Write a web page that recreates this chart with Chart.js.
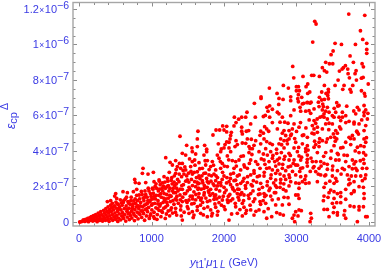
<!DOCTYPE html>
<html>
<head>
<meta charset="utf-8">
<style>
html,body{margin:0;padding:0;background:#fff;overflow:hidden}
</style>
<script src="https://cdn.jsdelivr.net/npm/chart.js@4/dist/chart.umd.min.js"></script>
</head>
<body>
<canvas id="chart" width="382" height="273"></canvas>
<script>
// x = GeV, y = units of 1e-7
var xMajor = [0,1000,2000,3000,4000];
var xLabels = ["0","1000","2000","3000","4000"];
var xMinor = [200,400,600,800,1200,1400,1600,1800,2200,2400,2600,2800,3200,3400,3600,3800];
var yMajor = [0,2,4,6,8,10,12];
var yLabels = ["0","2","4","6","8","1","1.2"];
var yExponents = ["","7","7","7","7","6","6"];
var yMinor = [0.5,1,1.5,2.5,3,3.5,4.5,5,5.5,6.5,7,7.5,8.5,9,9.5,10.5,11,11.5];

var upperPoints = [[3721,11.71],[3942,11.64],[3252,11.3],[3270,11.15],[3882,10.77],[3914,10.28],[3224,10.13],[3532,10.06],[3620,10],[3813,10],[3969,10.06],[3969,9.72],[3505,9.63],[3477,9.42],[3969,9.5],[3739,9.35],[3403,8.99],[3454,8.91],[3500,8.91],[3905,8.91],[3785,8.99],[3923,8.74],[2948,8.76],[3357,8.69],[3675,8.8],[3647,8.69],[3707,8.61],[3629,8.61],[3385,8.52],[3417,8.44],[3592,8.5],[3822,8.52],[3808,8.35],[3090,8.2],[3210,8.26],[3238,8.26],[3316,8.2],[3712,8.35],[3730,8.12],[3919,8.14],[3896,8.1],[2962,8.12],[3574,7.99],[3827,7.99],[3990,7.77],[3385,7.69],[3532,7.69],[3656,7.69],[3776,7.69],[3155,7.77],[3132,7.62],[2819,7.69],[2888,7.54],[2999,7.62],[3026,7.62],[2626,7.54],[2999,7.39],[3040,7.39],[3440,7.47],[3440,7.32],[3638,7.47],[3739,7.47],[3753,7.32],[3896,7.39],[3937,7.24],[3946,7.09],[2732,7.24],[3183,7.32],[3155,7.24],[3026,7.17],[3348,7.32],[3408,7.24],[2511,7.05],[2511,6.96],[2759,6.96],[2815,6.9],[2920,7.05],[2920,6.83],[3017,6.94],[3072,7.02],[3316,7.02],[3431,7.13],[3348,6.87],[3385,6.9],[3440,6.94],[2419,6.68],[2755,6.62],[3026,6.77],[3100,6.68],[3146,6.72],[3201,6.75],[3302,6.75],[3362,6.64],[3555,6.72],[3569,6.53]];

var midLeftPoints = [[2630,6.54],[2593,6.46],[2667,6.35],[2607,6.24],[2317,6.18],[2143,5.9],[2202,5.79],[2244,5.9],[2299,5.9],[2432,5.9],[2543,5.94],[2570,6],[2630,5.9],[2166,5.6],[2138,5.41],[1982,5.41],[2037,5.39],[2368,5.52],[2667,5.6],[1890,5.18],[1940,5.18],[2000,5.18],[1641,5.11],[2037,5.07],[2101,5.05],[2244,5.34],[2244,5.11],[2253,4.96],[2308,5.11],[2340,5.15],[2561,5.37],[2589,5.24],[2616,5.11],[2506,5.11],[2543,5],[1848,4.9],[1393,4.83],[2092,4.87],[2497,4.88],[1632,4.68],[2083,4.68],[2322,4.68],[2377,4.66],[2437,4.58],[2552,4.68],[2589,4.53],[2037,4.51],[2069,4.49],[2166,4.58],[2253,4.45],[2299,4.43],[1485,4.32],[1632,4.25],[1733,4.32],[1922,4.4],[2014,4.36],[2184,4.36],[2152,4.25],[2345,4.25],[2414,4.32],[2506,4.4],[2635,4.43],[2667,4.36],[1558,4.17],[1761,4.1],[1963,4.11],[2000,4.17],[2069,4.17],[2391,4.13],[2359,4.13],[2575,4.13]];

var midRightPoints = [[2966,6.31],[3049,6.46],[3081,6.65],[3150,6.74],[3187,6.69],[3242,6.37],[3311,6.5],[3371,6.5],[3426,6.46],[3587,6.56],[3693,6.52],[3840,6.46],[3932,6.56],[3955,6.31],[3985,6.12],[2736,6.18],[2759,6.09],[2805,5.9],[2920,5.99],[3058,6.24],[3127,6.24],[3173,6.27],[3196,6.12],[3357,6.31],[3403,6.24],[3380,6.09],[3449,6.18],[3541,6.18],[3495,5.99],[3633,6.18],[3817,6.09],[3932,6.18],[3863,6.31],[3325,5.9],[3380,5.9],[3426,5.8],[3242,5.71],[3265,5.56],[3518,5.9],[3587,5.9],[3633,5.9],[3679,5.99],[3794,5.62],[3932,5.99],[3978,5.8],[2773,5.62],[2837,5.62],[2883,5.56],[2966,5.52],[3035,5.34],[3219,5.43],[3288,5.34],[3357,5.24],[3403,5.52],[3449,5.56],[3495,5.52],[3610,5.71],[3725,5.67],[3794,5.52],[3863,5.52],[3955,5.43],[2736,5.24],[2828,5.15],[2897,5.15],[2943,5.24],[3242,5.24],[3288,5.05],[3610,5.24],[3541,5.15],[3509,4.96],[3564,5],[3527,4.77],[3555,4.68],[3472,4.77],[3831,5.11],[3725,4.77],[3771,4.87],[3840,5.05],[3932,5.15],[2805,5],[2851,4.87],[2920,4.87],[2782,4.68],[2897,4.68],[2828,4.58],[3081,4.87],[3150,4.77],[3242,4.96],[3357,4.58],[3426,4.68],[3794,4.68],[3932,4.68],[3955,4.49],[3886,4.3],[2759,4.4],[2874,4.4],[2989,4.49],[3081,4.4],[3150,4.3],[3265,4.36],[3311,4.49],[3311,4.25],[3242,4.21],[3518,4.3],[3748,4.36],[3679,4.49],[3932,4.25],[3840,4.21],[3610,4.17],[2828,4.17],[2966,4.17],[3127,4.13]];

var lowRightPoints = [[2727,3.87],[2791,3.91],[2897,3.87],[3012,3.96],[3127,3.96],[3150,3.77],[3288,3.91],[3403,3.91],[3564,3.87],[3656,3.77],[3863,3.91],[3955,3.77],[2736,3.49],[2759,3.27],[2828,3.53],[2897,3.49],[2966,3.49],[3035,3.72],[3058,3.49],[3150,3.53],[3219,3.4],[3334,3.4],[3380,3.3],[3472,3.59],[3541,3.49],[3587,3.49],[3679,3.4],[3771,3.49],[3817,3.4],[3932,3.3],[3923,3.53],[2713,3.15],[2805,3.02],[2851,2.89],[2920,3.15],[2989,3.21],[3058,3.02],[3150,3.15],[3242,3.12],[3311,3.02],[3426,2.97],[3495,2.93],[3564,2.89],[3633,3.02],[3725,3.12],[3794,3.27],[3817,3.02],[3909,3.02],[3969,3.02],[2713,2.74],[2773,2.7],[2828,2.59],[2897,2.65],[2989,2.65],[3058,2.55],[3127,2.59],[3265,2.84],[3334,2.65],[3403,2.65],[3495,2.59],[3541,2.46],[3702,2.65],[3757,2.59],[3817,2.59],[3886,2.59],[3955,2.65],[2713,2.37],[2782,2.4],[2851,2.4],[2920,2.27],[3035,2.18],[3081,2.27],[3127,2.18],[3173,2.2],[3288,2.27],[3403,2.18],[3518,2.18],[3725,2.4],[3739,2.18],[3909,2.33],[3794,2.27],[2727,1.95],[2773,1.95],[2819,1.84],[2897,2.03],[3035,1.9],[3380,1.95],[3472,1.8],[3610,1.65],[3679,1.84],[3794,1.77],[3863,1.99],[3923,1.95],[2713,1.65],[2989,1.52],[3021,1.52],[3035,1.33],[3380,1.46],[3449,1.65],[3518,1.71],[3564,1.6],[3757,1.6],[3794,1.71],[3932,1.6],[2828,1.39],[2883,1.37],[3371,1.2],[3435,1.39],[3518,1.33],[3610,1.43],[3932,1.33],[3679,1.28],[2713,0.96],[2805,0.96],[2897,1],[3495,1.05],[3555,1.09],[3610,1.09],[3739,0.9],[3794,0.86],[3863,0.86],[3923,0.86],[3380,0.71],[3426,0.71],[3518,0.83],[3564,0.53],[3509,0.53],[3665,0.64],[3863,0.68],[3035,0.68],[2989,0.58],[2966,0.39],[3021,0.34],[3067,0.64],[2727,0.53],[2773,0.45],[2819,0.39],[3196,0.49],[3205,0.21],[3187,0.02],[2943,0.21],[2975,0.02],[3449,0.3],[3564,0.39],[3679,0.21],[3840,0.02],[3955,0.3],[3975,0.3],[3656,0.39]];

var lowMidPoints = [[1425,3.87],[1471,3.77],[1563,3.96],[1609,3.83],[1724,3.77],[1761,3.96],[1908,3.77],[1954,3.96],[2092,3.96],[2046,3.72],[2267,3.72],[2345,3.91],[2483,3.96],[2543,3.83],[2644,3.96],[2598,3.77],[1333,3.46],[1425,3.3],[1563,3.4],[1595,3.49],[1655,3.34],[1770,3.46],[1839,3.4],[1931,3.59],[1977,3.3],[2115,3.46],[2161,3.4],[2207,3.49],[2276,3.21],[2368,3.49],[2437,3.4],[2552,3.49],[2621,3.4],[2667,3.59],[1356,3.12],[1402,3.02],[1471,2.93],[1540,3.12],[1632,2.83],[1701,3.02],[1747,3.21],[1816,3.12],[1885,2.93],[1954,3.02],[2046,3.12],[2138,3.02],[2230,2.93],[2322,3.02],[2414,2.89],[2497,3.02],[2589,3.02],[2667,2.93],[1333,2.74],[1448,2.7],[1563,2.7],[1655,2.59],[1724,2.74],[1793,2.65],[1862,2.7],[2000,2.59],[2092,2.7],[2184,2.59],[2276,2.46],[2368,2.65],[2460,2.55],[2552,2.59],[2644,2.46],[1379,2.27],[1494,2.37],[1595,2.27],[1655,2.18],[1701,2.33],[1770,2.27],[1885,2.33],[1954,2.22],[2069,2.27],[2138,2.33],[2230,2.18],[2322,2.22],[2405,2.33],[2506,2.18],[2598,2.27],[1347,1.9],[1425,1.84],[1517,1.95],[1609,1.99],[1641,1.84],[1724,1.9],[1816,1.84],[1908,2.03],[2000,1.95],[2115,1.95],[2207,1.84],[2299,1.9],[2391,2.03],[2483,1.84],[2552,1.6],[2621,1.77],[1333,1.65],[1393,1.52],[1471,1.6],[1563,1.46],[1655,1.6],[1724,1.52],[1793,1.65],[1885,1.52],[1977,1.24],[2046,1.24],[2184,1.6],[2276,1.52],[2368,1.6],[2497,1.58],[2561,1.43],[2644,1.46],[1347,1.24],[1425,1.15],[1517,1.24],[1586,1.05],[1678,1.24],[1770,1.15],[1862,1.28],[1931,1.09],[2092,1.2],[2253,1.05],[2207,1.24],[2345,1.33],[2405,1.15],[2497,1.15],[2575,1.05],[1333,0.77],[1402,0.68],[1494,0.86],[1563,0.58],[1632,0.86],[1724,0.77],[1816,0.68],[1885,0.83],[2161,0.86],[2000,0.86],[2276,0.83],[2368,0.68],[2483,0.68],[2552,0.58],[1347,0.39],[1425,0.11],[1411,0.34],[1517,0.49],[1586,0.39],[1678,0.49],[1770,0.3],[1839,0.49],[1908,0.39],[2069,0.11],[2184,0.49],[2299,0.49],[2253,0.34],[2414,0.39],[2589,0.21],[2658,0.3]];

var lowLeftPoints = [[1196,3.62],[1256,3.36],[1288,3.21],[883,3.02],[874,2.74],[952,2.7],[1026,2.8],[768,2.4],[777,2.22],[1173,2.55],[1219,2.46],[828,2.18],[920,2.22],[1035,2.27],[1104,2.37],[506,1.6],[492,1.46],[607,1.71],[667,1.65],[750,1.71],[796,1.84],[391,1.15],[437,1.2],[520,1.33],[10,0],[30,0.02],[50,0.05],[60,0.12],[80,0.03],[90,0.14],[110,0.08],[120,0.2],[130,0.02],[150,0.25],[160,0.1],[170,0.3],[180,0.16],[190,0.05],[200,0.36],[210,0.22],[220,0.1],[230,0.42],[240,0.3],[250,0.02],[255,0.18],[265,0.5],[275,0.36],[285,0.09],[290,0.26],[300,0.58],[310,0.42],[320,0.15],[325,0.05],[335,0.33],[340,0.66],[350,0.5],[355,0.22],[365,0.1],[370,0.75],[375,0.4],[385,0.6],[390,0.28],[400,0.85],[400,0.14],[410,0.5],[415,0.04],[420,0.7],[425,0.35],[435,0.95],[440,0.2],[445,0.58],[450,0.8],[460,1.05],[460,0.42],[465,0.1],[475,0.68],[480,0.28],[490,0.9],[495,0.5],[505,0.15],[510,1.12],[515,0.78],[520,0.36],[530,0.6],[535,0.03],[540,1],[545,0.22],[555,0.46],[560,0.85],[570,1.25],[575,0.12],[580,0.68],[590,0.34],[595,0.95],[600,0.52],[610,1.1],[615,0.2],[625,0.75],[630,0.42],[640,1.3],[645,0.05],[650,0.9],[660,0.6],[665,0.28],[675,1.15],[680,0.48],[690,0.78],[695,0.14],[705,1],[710,0.36],[720,1.4],[725,0.62],[730,0.22],[740,0.88],[750,0.5],[755,1.2],[765,0.08],[770,0.7],[780,1.05],[785,0.32],[795,1.5],[800,0.56],[810,0.92],[815,0.18],[825,0.75],[835,1.3],[840,0.42],[850,1.1],[855,0.62],[865,0.26],[870,1.55],[880,0.85],[890,0.48],[895,1.2],[905,0.1],[910,1.75],[915,0.7],[925,1],[930,0.34],[940,1.4],[945,0.58],[955,1.9],[960,0.82],[970,0.2],[975,1.15],[985,1.6],[990,0.45],[1000,0.95],[1005,0.68],[1015,1.3],[1020,1.85],[1030,0.3],[1035,0.55],[1045,1.05],[1050,2],[1060,0.8],[1065,1.5],[1075,0.15],[1080,0.42],[1090,1.2],[1095,1.75],[1105,0.65],[1115,0.9],[1120,2.1],[1130,0.3],[1135,1.4],[1145,1.9],[1150,0.55],[1160,1.1],[1170,0.78],[1175,1.6],[1185,2.25],[1190,0.2],[1200,1.3],[1205,0.45],[1215,2],[1220,0.95],[1230,0.62],[1240,1.75],[1245,2.8],[1250,0.35],[1260,1.15],[1270,1.45],[1275,0.8],[1285,2.15],[1290,0.5],[1300,1.9],[1310,1],[1315,2.6]];

// second pass over the dense part of the cloud
var denseLeftPoints = [[345,0.2],[430,0.62],[470,0.85],[500,0.3],[525,1.02],[550,0.72],[585,1.08],[605,0.3],[620,1.22],[655,1.4],[670,0.72],[685,1.05],[700,0.5],[715,1.2],[735,0.75],[745,1.02],[760,0.4],[775,1.3],[790,0.85],[805,1.2],[820,0.5],[830,1.52],[845,0.9],[860,1.72],[875,0.62],[885,1.35],[900,0.95],[920,1.55],[935,0.75],[950,1.2],[965,1.75],[980,0.35],[995,1.45],[1010,1.02],[1025,1.62],[1040,0.2],[1055,1.3],[1070,1.9],[1085,0.75],[1100,1.5],[1110,2.3],[1125,1.02],[1140,0.62],[1155,1.75],[1165,2.02],[1180,1.2],[1195,0.85],[1210,1.55],[1225,2.3],[1235,1.35],[1255,1.9],[1265,0.68],[1280,2.5],[1295,1.2],[1305,1.65],[1320,2.05],[1330,0.55],[1340,2.95],[1350,1.45],[1360,2.4],[1370,1.05],[1385,3.3],[1395,1.85],[1405,0.9],[1415,2.55],[1430,1.4],[1440,2.1],[1450,0.55],[1460,3.1],[1475,1.2],[1485,2.6],[1495,1.75],[1505,0.75],[1515,2.25],[1525,3.55],[1535,1.45],[1545,2.85],[1555,1.02],[1565,2.05],[1575,0.25],[1585,1.7],[1600,3.2],[1610,1.25],[1620,2.5],[1630,0.65],[1640,2.15],[1650,1.4],[1665,3.0],[1675,0.95],[1685,1.85],[1695,2.6],[1705,1.1],[1715,0.4],[1730,2.05],[1740,3.45],[1750,1.35],[1760,2.45],[1775,0.85],[1785,1.75],[1795,2.95],[1805,1.2],[1820,2.3],[1830,0.35],[1845,1.6],[1855,3.2],[1865,2.05],[1875,1.02],[1890,2.6],[1900,1.3],[1915,0.6],[1925,2.2],[1940,1.75],[1950,3.4],[1965,0.95],[1975,2.4],[1990,1.45],[2005,3.15],[2015,0.7],[2030,1.8],[2040,2.5],[2055,1.1],[2065,3.5],[2080,1.55],[2090,2.1],[2105,0.45],[2120,1.3],[2130,2.75],[2145,1.75],[2155,1.05],[2170,3.15],[2180,2.1],[2195,1.4],[2210,2.65],[2220,0.7],[2235,3.7],[2245,1.65],[2260,2.3],[2270,1.2],[2285,3.1],[2295,2.05],[2310,0.65],[2325,2.55],[2335,1.5],[2350,3.3],[2360,0.95],[2375,2.1],[2385,3.8],[2400,1.75],[2415,2.75],[2425,1.3],[2440,0.6],[2450,2.25],[2465,3.25],[2475,1.55],[2490,2.6],[2505,1.0],[2515,3.55],[2530,1.95],[2540,1.2],[2555,2.8],[2565,3.25],[2580,1.5],[2595,2.05],[2610,0.75],[2625,3.05],[2635,1.9],[2650,2.65],[2665,1.25],[2675,3.75],[2685,2.2],[2695,1.65]];

var denseRightPoints = [[2700,3.4],[2710,2.05],[2725,4.1],[2740,2.9],[2750,1.3],[2765,3.6],[2780,2.2],[2795,4.35],[2810,3.25],[2825,2.15],[2840,3.7],[2855,1.75],[2870,4.6],[2885,3.1],[2905,2.5],[2915,3.75],[2930,4.95],[2945,2.85],[2955,3.3],[2975,4.7],[2990,2.2],[3000,5.1],[3015,3.2],[3030,4.2],[3045,2.85],[3055,5.6],[3070,3.65],[3085,3.05],[3100,4.9],[3115,2.4],[3130,5.3],[3145,3.35],[3160,4.05],[3175,5.75],[3190,2.85],[3200,3.6],[3215,5.0],[3230,3.05],[3250,4.55],[3270,3.4],[3285,5.8],[3300,2.7],[3320,4.7],[3340,3.15],[3355,5.95],[3375,3.7],[3390,2.6],[3410,4.5],[3425,3.25],[3445,5.2],[3460,2.3],[3480,4.0],[3500,3.15],[3520,6.4],[3535,4.55],[3555,2.3],[3575,3.8],[3595,5.35],[3615,2.7],[3640,4.2],[3660,2.95],[3680,5.6],[3700,3.75],[3720,2.1],[3745,4.7],[3770,3.0],[3790,6.25],[3810,4.0],[3835,2.9],[3855,4.95],[3880,3.45],[3900,5.75],[3925,3.9],[3945,2.45],[3965,4.75]];

// third pass, solid patch around 1000-2200 GeV
var solidPatchPoints = [[905,1.4],[945,1.05],[990,1.25],[1012,1.9],[1038,1.45],[1062,2.15],[1088,1.02],[1108,1.85],[1128,1.6],[1152,2.2],[1168,1.35],[1192,1.9],[1212,1.1],[1232,2.05],[1252,1.5],[1272,2.35],[1292,1.75],[1312,2.25],[1328,1.3],[1345,2.15],[1365,1.75],[1382,2.7],[1398,1.25],[1418,2.05],[1436,2.9],[1455,1.6],[1472,2.3],[1490,1.1],[1510,2.75],[1530,1.85],[1550,2.4],[1568,1.3],[1590,2.8],[1612,1.55],[1628,2.25],[1648,1.9],[1668,2.45],[1690,1.35],[1708,2.2],[1728,1.65],[1746,2.75],[1768,1.95],[1788,2.2],[1808,1.5],[1828,2.6],[1850,2.15],[1870,1.45],[1892,1.85],[1910,2.5],[1935,1.4],[1958,2.05],[1980,2.8],[2008,1.65],[2035,2.2],[2060,1.45],[2088,2.45],[2125,1.85],[2160,2.35],[2190,1.85],[2225,1.55]];

var allPoints = upperPoints.concat(midLeftPoints, midRightPoints, lowRightPoints, lowMidPoints, lowLeftPoints, denseLeftPoints, denseRightPoints, solidPatchPoints);

var blue = "#3a3ae4";
var frameGray = "#a6a6a6";
var font = "'Liberation Sans', Arial, sans-serif";

function setFont(ctx, size, italic){
    ctx.font = (italic ? "italic " : "") + size + "px " + font;
}

// draws text runs one after the other, dy moves sub/superscripts
function drawRuns(ctx, runs, x, y){
    runs.forEach(function(r){
        setFont(ctx, r.size, r.italic);
        ctx.fillText(r.text, x, y + (r.dy || 0));
        x += ctx.measureText(r.text).width + (r.gap || 0);
    });
}

var framePlugin = {
    id: "frame",
    beforeDatasetsDraw: function(chart){
        var ctx = chart.ctx;
        var a = chart.chartArea;
        var sx = chart.scales.x;
        var sy = chart.scales.y;
        ctx.save();

        // ticks on all four sides, pointing inwards
        ctx.strokeStyle = "#8c8c8c";
        ctx.lineWidth = 1;
        function xTicks(list, len){
            list.forEach(function(v){
                var p = Math.round(sx.getPixelForValue(v)) + 0.5;
                ctx.beginPath();
                ctx.moveTo(p, a.bottom); ctx.lineTo(p, a.bottom - len);
                ctx.moveTo(p, a.top); ctx.lineTo(p, a.top + len);
                ctx.stroke();
            });
        }
        function yTicks(list, len){
            list.forEach(function(v){
                var p = Math.round(sy.getPixelForValue(v)) + 0.5;
                ctx.beginPath();
                ctx.moveTo(a.left, p); ctx.lineTo(a.left + len, p);
                ctx.moveTo(a.right, p); ctx.lineTo(a.right - len, p);
                ctx.stroke();
            });
        }
        xTicks(xMajor, 4); xTicks(xMinor, 2.5);
        yTicks(yMajor, 4); yTicks(yMinor, 2.5);

        ctx.strokeStyle = frameGray;
        ctx.lineWidth = 1.4;
        ctx.strokeRect(a.left, a.top, a.right - a.left, a.bottom - a.top);

        // tick labels
        ctx.fillStyle = blue;
        ctx.textBaseline = "alphabetic";
        ctx.textAlign = "center";
        setFont(ctx, 11);
        xMajor.forEach(function(v, i){
            ctx.fillText(xLabels[i], sx.getPixelForValue(v), 242);
        });
        ctx.textAlign = "left";
        yMajor.forEach(function(v, i){
            var p = sy.getPixelForValue(v);
            if(!yExponents[i]){
                setFont(ctx, 11);
                ctx.fillText(yLabels[i], 69 - ctx.measureText(yLabels[i]).width, p + 4);
                return;
            }
            var runs = [
                {text: yLabels[i], size: 11, gap: 0.5},
                {text: "\u00d7", size: 8.5, gap: 0.5},
                {text: "10", size: 11, gap: 0},
                {text: "\u2212" + yExponents[i], size: 10.5, dy: -4}
            ];
            var w = 0;
            runs.forEach(function(r){
                setFont(ctx, r.size);
                w += ctx.measureText(r.text).width + (r.gap || 0);
            });
            drawRuns(ctx, runs, 69 - w, p + 4);
        });

        // x title
        drawRuns(ctx, [
            {text: "y", size: 11.5, italic: true},
            {text: "t1", size: 10, dy: 2},
            {text: "'", size: 11},
            {text: "\u03bc", size: 11.5, italic: true},
            {text: "1", size: 10, dy: 2, gap: 2},
            {text: "L", size: 10, italic: true, dy: 2, gap: 3},
            {text: "(GeV)", size: 11}
        ], 190, 266);

        // y title, rotated
        ctx.translate(15, 129);
        ctx.rotate(-Math.PI / 2);
        drawRuns(ctx, [
            {text: "\u03b5", size: 12, italic: true},
            {text: "cp", size: 11, dy: 2, gap: 2},
            {text: "\u0394", size: 10.5, dy: -7}
        ], 0, 0);

        ctx.restore();
    }
};

new Chart(document.getElementById("chart"), {
    type: "scatter",
    data: {
        datasets: [{
            data: allPoints.map(function(p){ return {x: p[0], y: p[1]}; }),
            backgroundColor: "#ff0000",
            borderWidth: 0,
            pointRadius: 1.9,
            pointHoverRadius: 1.9
        }]
    },
    options: {
        responsive: false,
        animation: false,
        layout: {padding: {left: 73, right: 7, top: 2.5, bottom: 47}},
        plugins: {legend: {display: false}, tooltip: {enabled: false}},
        scales: {
            x: {
                type: "linear", min: -83, max: 4083, display: true,
                grid: {display: false, drawTicks: false, tickLength: 0}, border: {display: false},
                ticks: {display: false, padding: 0}
            },
            y: {
                type: "linear", min: -0.225, max: 12.36, display: true,
                grid: {display: false, drawTicks: false, tickLength: 0}, border: {display: false},
                ticks: {display: false, padding: 0}
            }
        }
    },
    plugins: [framePlugin]
});
</script>
</body>
</html>
